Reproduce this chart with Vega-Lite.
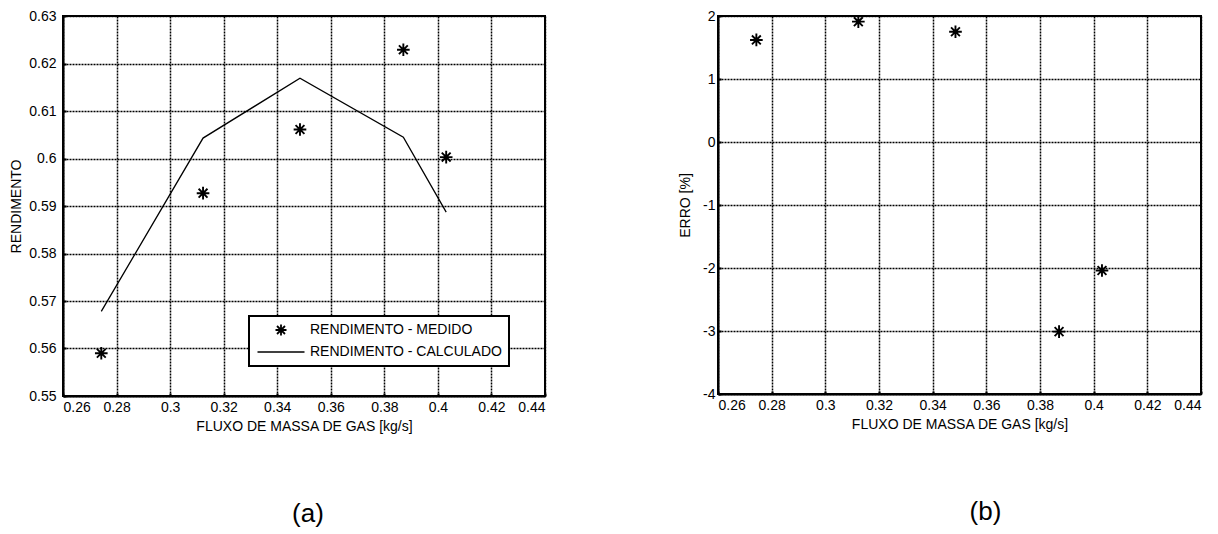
{
  "$schema": "https://vega.github.io/schema/vega-lite/v6.json",
  "background": "white",
  "padding": {"left": 8, "top": 8, "right": 5, "bottom": 0},
  "spacing": 130,
  "datasets": {
    "rend": [
      {"flux": 0.2743, "medido": 0.559, "calc": 0.5678, "erro": 1.62},
      {"flux": 0.3123, "medido": 0.5927, "calc": 0.6043, "erro": 1.91},
      {"flux": 0.3485, "medido": 0.6061, "calc": 0.6169, "erro": 1.75},
      {"flux": 0.3871, "medido": 0.6229, "calc": 0.6045, "erro": -3.01},
      {"flux": 0.4031, "medido": 0.6003, "calc": 0.5887, "erro": -2.04}
    ]
  },
  "config": {
    "font": "Liberation Sans",
    "view": {"stroke": "black", "strokeWidth": 2},
    "axis": {
      "labelFont": "Liberation Sans", "labelFontSize": 14, "labelColor": "black",
      "titleFont": "Liberation Sans", "titleFontSize": 14, "titleFontWeight": "normal", "titleColor": "black",
      "domainColor": "black", "domainWidth": 2,
      "gridColor": "black", "gridDash": [2, 1], "gridWidth": 1.5, "gridOpacity": 1,
      "tickColor": "black", "tickSize": -3, "tickWidth": 2
    },
    "title": {"font": "Liberation Sans", "fontSize": 26, "fontWeight": "normal", "color": "black"}
  },
  "hconcat": [
    {
      "width": 482,
      "height": 380,
      "title": {"text": "(a)", "orient": "bottom", "offset": 68, "dx": 4},
      "data": {"name": "rend"},
      "layer": [
        {
          "mark": {"type": "line", "color": "black", "strokeWidth": 1.3},
          "encoding": {
            "x": {"field": "flux", "type": "quantitative",
                  "scale": {"domain": [0.26, 0.44], "nice": false, "zero": false},
                  "axis": {"values": [0.26, 0.28, 0.3, 0.32, 0.34, 0.36, 0.38, 0.4, 0.42, 0.44], "format": ".2~f", "labelPadding": 7, "titlePadding": 5, "title": "FLUXO DE MASSA DE GAS [kg/s]"}},
            "y": {"field": "calc", "type": "quantitative",
                  "scale": {"domain": [0.55, 0.63], "nice": false, "zero": false},
                  "axis": {"values": [0.55, 0.56, 0.57, 0.58, 0.59, 0.6, 0.61, 0.62, 0.63], "format": ".2~f", "labelPadding": 10, "titlePadding": 5, "title": "RENDIMENTO"}},
            "color": {"datum": "RENDIMENTO - CALCULADO", "type": "nominal",
                      "scale": {"domain": ["RENDIMENTO - MEDIDO", "RENDIMENTO - CALCULADO"], "range": ["black", "black"]},
                      "legend": {
                        "title": null, "orient": "none", "legendX": 186, "legendY": 300,
                        "strokeColor": "black", "fillColor": "white", "padding": 7,
                        "labelFont": "Liberation Sans", "labelFontSize": 14, "labelColor": "black", "labelLimit": 400,
                        "symbolSize": 100, "symbolOffset": 18, "labelOffset": 22, "rowPadding": 5,
                        "symbolStrokeWidth": 1.4, "symbolStrokeColor": "black", "symbolFillColor": "transparent",
                        "encode": {
                          "legend": {"update": {"strokeWidth": {"value": 2}}},
                          "symbols": {"update": {
                            "shape": {"signal": "datum.label === 'RENDIMENTO - MEDIDO' ? 'M0,-1.1L0,1.1M-1.1,0L1.1,0M-0.8,-0.8L0.8,0.8M-0.8,0.8L0.8,-0.8' : 'M-4.7,0L4.7,0'"},
                            "stroke": {"value": "black"},
                            "strokeWidth": {"signal": "datum.label === 'RENDIMENTO - MEDIDO' ? 1.8 : 1.3"},
                            "fill": {"value": "transparent"}
                          }}
                        }
                      }}
          }
        },
        {
          "mark": {"type": "point", "shape": "M0,-1L0,1M-1,0L1,0M-0.7,-0.7L0.7,0.7M-0.7,0.7L0.7,-0.7", "filled": false, "size": 160, "strokeWidth": 1.9, "opacity": 1},
          "encoding": {
            "x": {"field": "flux", "type": "quantitative"},
            "y": {"field": "medido", "type": "quantitative"},
            "color": {"datum": "RENDIMENTO - MEDIDO", "type": "nominal"}
          }
        }
      ]
    },
    {
      "width": 483,
      "height": 378,
      "title": {"text": "(b)", "orient": "bottom", "offset": 68, "dx": 26},
      "data": {"name": "rend"},
      "mark": {"type": "point", "shape": "M0,-1L0,1M-1,0L1,0M-0.7,-0.7L0.7,0.7M-0.7,0.7L0.7,-0.7", "filled": false, "size": 160, "strokeWidth": 1.9, "opacity": 1, "color": "black"},
      "encoding": {
        "x": {"field": "flux", "type": "quantitative",
              "scale": {"domain": [0.26, 0.44], "nice": false, "zero": false},
              "axis": {"values": [0.26, 0.28, 0.3, 0.32, 0.34, 0.36, 0.38, 0.4, 0.42, 0.44], "format": ".2~f", "labelPadding": 7, "titlePadding": 5, "title": "FLUXO DE MASSA DE GAS [kg/s]"}},
        "y": {"field": "erro", "type": "quantitative",
              "scale": {"domain": [-4, 2], "nice": false, "zero": false},
              "axis": {"values": [-4, -3, -2, -1, 0, 1, 2], "labelExpr": "'' + datum.value", "labelPadding": 6, "titlePadding": 10, "title": "ERRO [%]"}}
      }
    }
  ]
}
